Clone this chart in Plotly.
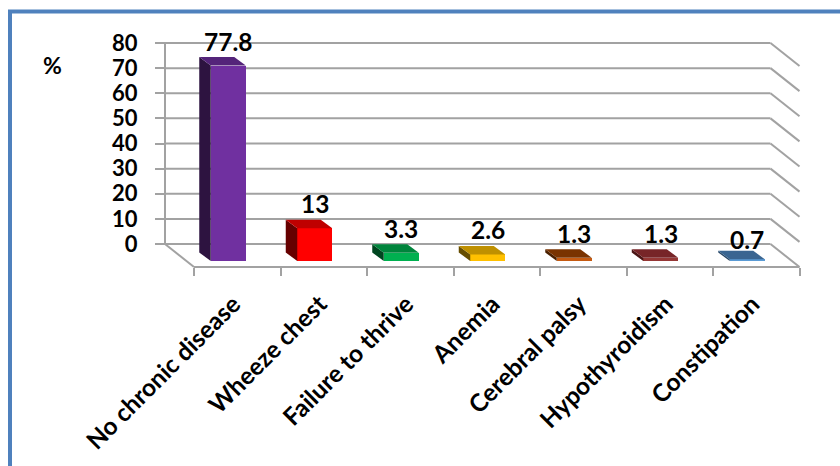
import plotly.graph_objects as go

# Chronic conditions, percentage of cases
categories = ["No chronic disease", "Wheeze chest", "Failure to thrive", "Anemia",
              "Cerebral palsy", "Hypothyroidism", "Constipation"]
values = [77.8, 13, 3.3, 2.6, 1.3, 1.3, 0.7]
value_labels = ["77.8", "13", "3.3", "2.6", "1.3", "1.3", "0.7"]
y_ticks = [0, 10, 20, 30, 40, 50, 60, 70, 80]

front_colors = ["#7030A0", "#FF0000", "#00B050", "#FFC000", "#C55A11", "#953735", "#5B9BD5"]
side_colors = ["#2D1340", "#660000", "#004620", "#664D00", "#4A2000", "#4A1515", "#274666"]
top_colors = ["#54247A", "#BF0000", "#00843C", "#BF9000", "#7A3300", "#772528", "#3A6591"]

WIDTH, HEIGHT = 840, 466
CAT_PX = 86.5      # pixels per category
VAL_PX = 2.5125    # pixels per percentage point
X0_PX = 194        # left end of the front floor edge
Y0_PX = 244        # zero level on the back wall


def x_of(px):
    return (px - X0_PX) / CAT_PX - 0.5


def y_of(py):
    return (Y0_PX - py) / VAL_PX


# Oblique projection of the floor and of each bar
FLOOR_DX = 29 / CAT_PX
FLOOR_DY = 23 / VAL_PX
BAR_DX = 11.5 / CAT_PX
BAR_DY = 8.5 / VAL_PX
BAR_WIDTH = 35 / CAT_PX
BAR_SHIFT = -9 / CAT_PX
BAR_BASE = y_of(261)
LABEL_GAP = 16 / VAL_PX
LABEL_SHIFT = -4 / CAT_PX
label_nudge = {6: -5 / VAL_PX}

GRID = "#A2A2A2"
FONT = "Lato"
n = len(categories)
x_left = -0.5  # left end of front floor edge, in category units
x_right = n - 0.5
y_floor = -FLOOR_DY

shapes = []


def seg(x1, y1, x2, y2):
    shapes.append(dict(type="line", xref="x", yref="y", x0=x1, y0=y1, x1=x2, y1=y2,
                       layer="below", line=dict(color=GRID, width=2)))


for v in y_ticks:
    seg(x_left - FLOOR_DX, v, x_right - FLOOR_DX, v)
    seg(x_right - FLOOR_DX, v, x_right, v - FLOOR_DY)
seg(x_left - FLOOR_DX, y_ticks[0], x_left - FLOOR_DX, y_ticks[-1])
seg(x_left - FLOOR_DX, 0, x_left, y_floor)
seg(x_left, y_floor, x_right, y_floor)

# Outer frame, open on the right and at the bottom
FRAME = "#4F81BD"
shapes.append(dict(type="line", xref="paper", yref="paper", x0=8 / WIDTH, x1=1,
                   y0=1 - 11.5 / HEIGHT, y1=1 - 11.5 / HEIGHT, line=dict(color=FRAME, width=4)))
shapes.append(dict(type="line", xref="paper", yref="paper", x0=10 / WIDTH, x1=10 / WIDTH,
                   y0=0, y1=1 - 10 / HEIGHT, line=dict(color=FRAME, width=4)))

fig = go.Figure()

bar_x = [i + BAR_SHIFT for i in range(n)]
fig.add_trace(go.Bar(x=bar_x, y=values, base=BAR_BASE, width=BAR_WIDTH,
                     marker=dict(color=front_colors, line=dict(width=0)),
                     hoverinfo="skip", showlegend=False))

annotations = []
for i, v in enumerate(values):
    xl = bar_x[i] - BAR_WIDTH / 2
    xr = bar_x[i] + BAR_WIDTH / 2
    top = BAR_BASE + v
    fig.add_trace(go.Scatter(
        x=[xl, xl - BAR_DX, xl - BAR_DX, xl, xl],
        y=[BAR_BASE, BAR_BASE + BAR_DY, top + BAR_DY, top, BAR_BASE],
        mode="lines", fill="toself", fillcolor=side_colors[i], line=dict(width=0),
        hoverinfo="skip", showlegend=False))
    fig.add_trace(go.Scatter(
        x=[xl, xr, xr - BAR_DX, xl - BAR_DX, xl],
        y=[top, top, top + BAR_DY, top + BAR_DY, top],
        mode="lines", fill="toself", fillcolor=top_colors[i], line=dict(width=0),
        hoverinfo="skip", showlegend=False))
    annotations.append(dict(x=bar_x[i], y=top + BAR_DY + LABEL_GAP + label_nudge.get(i, 0),
                            xref="x", yref="y", text=value_labels[i], showarrow=False,
                            font=dict(family=FONT, size=24.5, color="black", weight="bold")))

annotations.append(dict(x=52 / WIDTH, y=1 - 65 / HEIGHT, xref="paper", yref="paper", text="%",
                        xanchor="center", yanchor="middle", showarrow=False,
                        font=dict(family=FONT, size=23, color="black", weight="bold")))

# The plot area is a little larger than the floor so the frame lines are not clipped
px_left, px_right, py_top, py_bottom = 150, 806, 36, 274

fig.update_layout(
    width=WIDTH, height=HEIGHT,
    margin=dict(l=0, r=0, t=0, b=0),
    paper_bgcolor="white", plot_bgcolor="rgba(0,0,0,0)",
    shapes=shapes, annotations=annotations, bargap=0,
    font=dict(family=FONT, color="black"),
    xaxis=dict(
        automargin=False,
        domain=[px_left / WIDTH, px_right / WIDTH],
        range=[x_of(px_left), x_of(px_right)],
        anchor="free", position=1 - 267 / HEIGHT,
        showgrid=False, zeroline=False, showline=False,
        tickmode="array", tickvals=[i + LABEL_SHIFT for i in range(n)], ticktext=categories,
        ticks="", tickangle=-45, ticklabelstandoff=17,
        tickfont=dict(family=FONT, size=24.5, color="black", weight="bold"),
        minor=dict(tickmode="array", tickvals=[i - 0.5 for i in range(n + 1)],
                   ticks="outside", ticklen=8, tickwidth=2, tickcolor=GRID, showgrid=False),
    ),
    yaxis=dict(
        automargin=False,
        domain=[1 - py_bottom / HEIGHT, 1 - py_top / HEIGHT],
        range=[y_of(py_bottom), y_of(py_top)],
        anchor="free", position=165 / WIDTH,
        showgrid=False, zeroline=False, showline=False,
        tickmode="array", tickvals=y_ticks,
        ticks="outside", ticklen=10, tickwidth=2, tickcolor=GRID,
        ticklabelstandoff=13,
        tickfont=dict(family=FONT, size=22, color="black", weight="bold"),
    ),
)

fig.write_html("out.html")
